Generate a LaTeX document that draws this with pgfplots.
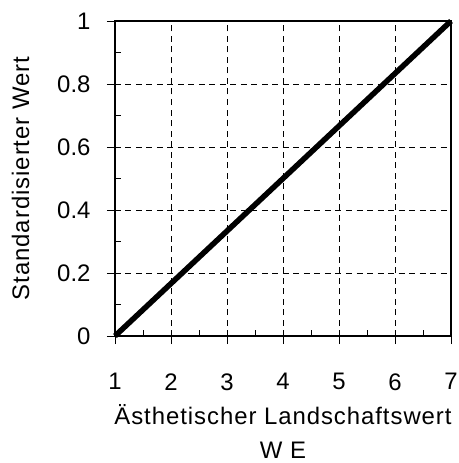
\documentclass[border=0pt]{standalone}
\usepackage{fontspec}
\setmainfont{Liberation Sans}
\newfontfamily\spaced[LetterSpace=4]{Liberation Sans}
\usepackage{pgfplots}
\pgfplotsset{compat=1.18}
\begin{document}
\begin{tikzpicture}
\path[use as bounding box] (-115bp,-127bp) rectangle (344bp,336bp);
\begin{axis}[
  at={(0,0)}, anchor=south west,
  scale only axis, width=336bp, height=315bp,
  xmin=1, xmax=7, ymin=0, ymax=1,
  xtick={1,2,3,4,5,6,7},
  ytick={0,0.2,0.4,0.6,0.8,1},
  yticklabels={0,0.2,0.4,0.6,0.8,1},
  xtick pos=left, ytick pos=left,
  minor x tick num=1, minor y tick num=1,
  tick align=outside,
  major tick length=8bp, minor tick length=6bp,
  minor x tick style={yshift=6bp},
  minor y tick style={xshift=6bp},
  axis line style={line width=1.6bp},
  every tick/.style={black, line width=0.9bp},
  grid=major,
  major grid style={black, line width=0.7bp, dash pattern=on 6bp off 4.5bp},
  /pgf/number format/assume math mode=true,
  tick label style={font=\fontsize{24}{28}\selectfont},
  xticklabel style={yshift=-26bp},
  yticklabel style={xshift=-13bp},
  label style={font=\spaced\fontsize{24}{34}\selectfont},
  xlabel={Ästhetischer Landschaftswert\\W E},
  xlabel style={align=center, yshift=-7bp},
  ylabel={Standardisierter Wert},
  ylabel style={yshift=21bp},
  clip=false,
]
\addplot[black, line width=5.5bp] coordinates {(1,0) (7,1)};
\end{axis}
\end{tikzpicture}
\end{document}
